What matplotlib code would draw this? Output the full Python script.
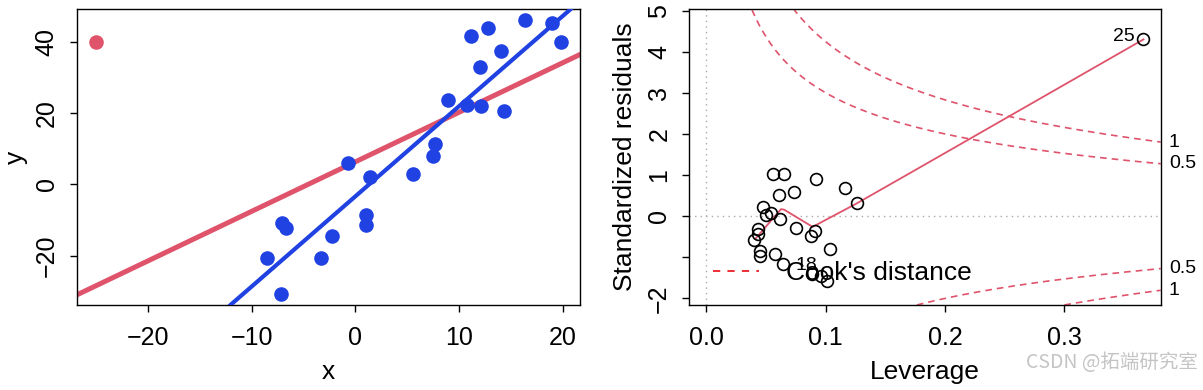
import numpy as np
import matplotlib
matplotlib.use("Agg")
import matplotlib.pyplot as plt
from matplotlib.lines import Line2D
import matplotlib.transforms as mtransforms

plt.rcParams['font.family'] = ['Liberation Sans', 'DejaVu Sans']

# ---- left panel: scatter + two regression lines ----
x_blue = [-7.07, -6.7, -8.55, -7.15, -3.3, -2.25, -0.7, 1.4, 1.0, 1.0,
          5.6, 7.5, 7.7, 8.97, 10.74, 12.12, 14.34, 12.02, 11.16, 12.77,
          14.02, 16.36, 18.94, 19.87]
y_blue = [-10.75, -12.3, -20.7, -30.8, -20.7, -14.4, 5.9, 2.1, -8.6, -11.4,
          2.8, 8.0, 11.2, 23.6, 22.2, 22.0, 20.6, 33.0, 41.7, 43.9,
          37.5, 46.1, 45.3, 40.0]
x_out = [-25.0]
y_out = [40.0]

fit_blue = (-3.4, 2.53)   # intercept, slope (without outlier)
fit_red = (6.3, 1.39)     # intercept, slope (with outlier)

# ---- right panel: residuals vs leverage ----
lev = [0.056, 0.065, 0.0919, 0.0734, 0.0608, 0.1162, 0.126, 0.0471, 0.0499,
       0.0539, 0.0617, 0.0751, 0.091, 0.0874, 0.0435, 0.0435, 0.040, 0.0449,
       0.0449, 0.0572, 0.0639, 0.1039, 0.0885, 0.096, 0.101, 0.3665]
std_res = [1.03, 1.03, 0.90, 0.60, 0.52, 0.68, 0.33, 0.23, 0.03,
           0.07, -0.07, -0.29, -0.37, -0.48, -0.31, -0.43, -0.58, -0.84,
           -0.97, -0.92, -1.16, -0.80, -1.415, -1.46, -1.57, 4.30]
smooth_h = [0.041, 0.0625, 0.065, 0.089, 0.126, 0.178, 0.3665]
smooth_r = [-0.55, 0.17, 0.16, -0.26, 0.31, 1.17, 4.30]
cook_levels = [0.5, 1]
n_par = 2

RED = '#DF536B'
BLUE = '#2042E2'

fig = plt.figure(figsize=(12.03, 3.9), dpi=100)
ax1 = fig.add_axes([0.0639, 0.218, 0.4182, 0.758])
ax2 = fig.add_axes([0.573, 0.218, 0.3919, 0.758])

for ax in (ax1, ax2):
    for s in ax.spines.values():
        s.set_linewidth(1.0)
    ax.tick_params(direction='out', length=5, width=1.0, labelsize=18)
    ax.tick_params(axis='x', pad=10)
    ax.tick_params(axis='y', pad=8)

# left
ax1.axline((0, fit_red[0]), slope=fit_red[1], color=RED, lw=3.6, zorder=2)
ax1.axline((0, fit_blue[0]), slope=fit_blue[1], color=BLUE, lw=3.0, zorder=3)
ax1.plot(x_blue, y_blue, 'o', color=BLUE, ms=10.5, mec='none', zorder=2.5)
ax1.plot(x_out, y_out, 'o', color=RED, ms=10.5, mec='none')
ax1.set_xlim(-26.85, 21.67)
ax1.set_ylim(-33.86, 49.09)
ax1.set_xticks([-20, -10, 0, 10, 20])
ax1.set_yticks([-20, 0, 20, 40])
ax1.set_yticklabels(['−20', '0', '20', '40'], rotation=90, va='center')
ax1.set_xlabel('x', fontsize=19)
ax1.set_ylabel('y', fontsize=19)
ax1.xaxis.set_label_coords(0.5, -0.227)
ax1.xaxis.label.set_va('center')
ax1.yaxis.set_label_coords(-0.121, 0.5)
ax1.yaxis.label.set_va('center')

# right
xmin, xmax = -0.0144, 0.381
ax2.set_xlim(xmin, xmax)
ax2.set_ylim(-2.16, 5.03)
ax2.axhline(0, color='#aaaaaa', ls=(0, (1, 3)), lw=1.0, zorder=1)
ax2.axvline(0, color='#aaaaaa', ls=(0, (1, 3)), lw=1.0, zorder=1)

hh = np.linspace(0.005, xmax, 200)
trans = mtransforms.blended_transform_factory(ax2.transAxes, ax2.transData)
for lvl in cook_levels:
    cl = np.sqrt(lvl * n_par * (1 - hh) / hh)
    ax2.plot(hh, cl, ls=(0, (4, 3)), color=RED, lw=1.2)
    ax2.plot(hh, -cl, ls=(0, (4, 3)), color=RED, lw=1.2)
    edge = np.sqrt(lvl * n_par * (1 - xmax) / xmax)
    for yy in (edge, -edge):
        ax2.text(1.017, yy, '%g' % lvl, transform=trans, fontsize=14,
                 ha='left', va='center', clip_on=False)

ax2.plot(smooth_h, smooth_r, color=RED, lw=1.3, zorder=3)
ax2.plot(lev, std_res, 'o', mfc='none', mec='black', mew=1.2, ms=8.5, zorder=4)
ax2.annotate('25', (lev[-1], std_res[-1]), xytext=(-6, 2), textcoords='offset points',
             ha='right', va='center', fontsize=14)
ax2.text(0.084, -1.21, '18', fontsize=14, ha='center', va='center')

ax2.set_xticks([0.0, 0.1, 0.2, 0.3])
ax2.set_xticklabels(['0.0', '0.1', '0.2', '0.3'])
ax2.set_yticks([-2, -1, 0, 1, 2, 3, 4, 5])
ax2.set_yticklabels(['−2', '', '0', '1', '2', '3', '4', '5'], rotation=90, va='center')
ax2.set_xlabel('Leverage', fontsize=19)
ax2.set_ylabel('Standardized residuals', fontsize=19)
ax2.xaxis.set_label_coords(0.5, -0.227)
ax2.xaxis.label.set_va('center')
ax2.yaxis.set_label_coords(-0.137, 0.5)
ax2.yaxis.label.set_va('center')

h = Line2D([], [], ls=(0, (4, 4)), color='#EE1C25', lw=1.3)
ax2.legend(handles=[h], labels=["Cook's distance"], loc='center left',
           bbox_to_anchor=(0.0496, 0.107), frameon=False, fontsize=19,
           handlelength=1.77, handletextpad=1.0, borderpad=0, borderaxespad=0)

fig.text(0.996, 0.07, 'CSDN @拓端研究室', fontsize=14, color='#c4c4c4',
         ha='right', va='center', family=['Noto Sans CJK SC', 'DejaVu Sans'])

fig.savefig('out.png', dpi=100)
